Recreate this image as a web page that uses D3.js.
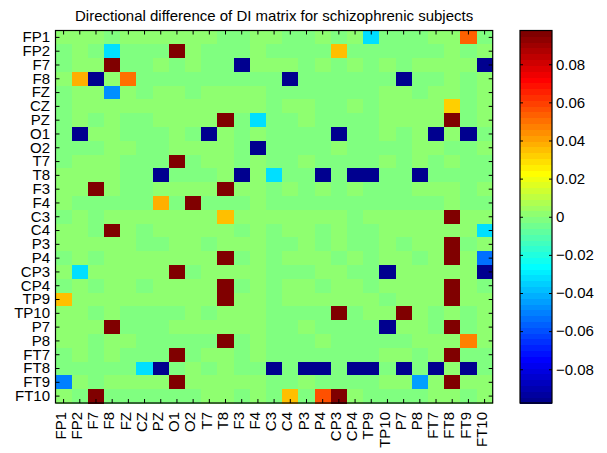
<!DOCTYPE html>
<html>
<head>
<meta charset="utf-8">
<script src="https://cdn.jsdelivr.net/npm/d3@7"></script>
<style>
  body { margin: 0; background: #fff; }
  svg { display: block; font-family: "Liberation Sans", Arial, Helvetica, sans-serif; }
</style>
</head>
<body>
<div id="chart"></div>
<script>
// channel labels, used for both rows and columns
const channels = ["FP1", "FP2", "F7", "F8", "FZ", "CZ", "PZ", "O1", "O2", "T7", "T8", "F3", "F4",
    "C3", "C4", "P3", "P4", "CP3", "CP4", "TP9", "TP10", "P7", "P8", "FT7", "FT8", "FT9", "FT10"];

// near-zero cells: a = just below 0, b = just above 0 (three blocks of 9 columns per row)
const nearZero = [
    "bbbabbbbb baabbaaba baaaabbba",
    "abaaaaaab aaabaaaaa aaaaaabab",
    "abbbaabab aaabbbaba bababbbbb",
    "bbbbbaaaa aaaaaaaaa aaaaaabab",
    "abbababba bbbbaaaaa aabbabbab",
    "abbbbbbbb bbbbabbaa babbbbbab",
    "ababaabbb bbaaaabaa aabbbbbab",
    "aabbaaaba bbabaaaaa aababbbaa",
    "aaabbaabb bbaaaaaab aaaabbaab",
    "abbbaaaba bbabaabaa aabababaa",
    "bbbbaaaaa abbbaaaaa aaaaaaaaa",
    "bbbbaabbb bbbbababa baaabbbab",
    "baaaaaaaa aaabaaaaa aaaaaabaa",
    "ababbbbbb bbbbbbbbb abbbbbbbb",
    "bbabbabbb bbababbab aabbbbbba",
    "bbbbbaabb abbbaabab aababbbab",
    "ababbbbbb bbababbba babbabbbb",
    "bbbbbbbba bbbbaaabb aaabbbbbb",
    "ababbabbb bbababbab babbbbbba",
    "bbbbbbbbb bbbbabbbb bbabbbbbb",
    "bbabaaaab abbbaaaaa abbbbabab",
    "bbbbaaabb bbbbaabaa aaabbabab",
    "bbabbaaaa aaabaaaba aaaabbbbb",
    "ababaaaaa bbabaaaaa aabbabbaa",
    "aaaaaaaab abaaaaaaa aaaaaabaa",
    "bbabbbbbb bbbbaabaa aabbbbbbb",
    "baaaaaaaa bbabababb baaaabbab"
];
const nearZeroSize = 0.0015;

// strong cells: [row, column, value]
const strong = [
    ["FP1", "TP9", -0.032], ["FP1", "FT9", 0.054],
    ["FP2", "F8", -0.032], ["FP2", "O1", 0.097], ["FP2", "CP3", 0.036],
    ["F7", "F8", 0.097], ["F7", "F3", -0.097], ["F7", "FT10", -0.097],
    ["F8", "FP2", 0.037], ["F8", "F7", -0.097], ["F8", "FZ", 0.049], ["F8", "C4", -0.097], ["F8", "P7", -0.097],
    ["FZ", "F8", -0.046],
    ["CZ", "FT8", 0.031],
    ["PZ", "T8", 0.097], ["PZ", "F4", -0.032], ["PZ", "FT8", 0.097],
    ["O1", "FP2", -0.097], ["O1", "T7", -0.097], ["O1", "CP3", -0.097], ["O1", "FT7", -0.097], ["O1", "FT9", -0.097],
    ["O2", "F4", -0.097],
    ["T7", "O1", 0.097],
    ["T8", "PZ", -0.097], ["T8", "F3", -0.097], ["T8", "C3", -0.032], ["T8", "P4", -0.097],
    ["T8", "CP4", -0.097], ["T8", "TP9", -0.097], ["T8", "P8", -0.097],
    ["F3", "F7", 0.097], ["F3", "T8", 0.097],
    ["F4", "PZ", 0.037], ["F4", "O2", 0.097],
    ["C3", "T8", 0.036], ["C3", "FT8", 0.097],
    ["C4", "F8", 0.097], ["C4", "FT10", -0.032],
    ["P3", "FT8", 0.097],
    ["P4", "T8", 0.097], ["P4", "FT8", 0.097], ["P4", "FT10", -0.054],
    ["CP3", "FP2", -0.032], ["CP3", "O1", 0.097], ["CP3", "TP10", -0.097], ["CP3", "FT10", -0.097],
    ["CP4", "T8", 0.097], ["CP4", "FT8", 0.097],
    ["TP9", "FP1", 0.036], ["TP9", "T8", 0.097], ["TP9", "FT8", 0.097],
    ["TP10", "CP3", 0.097], ["TP10", "P7", 0.097],
    ["P7", "F8", 0.097], ["P7", "TP10", -0.097], ["P7", "FT8", 0.097],
    ["P8", "T8", 0.097], ["P8", "FT9", 0.046],
    ["FT7", "O1", 0.097], ["FT7", "FT8", 0.097],
    ["FT8", "CZ", -0.032], ["FT8", "PZ", -0.097], ["FT8", "C3", -0.097], ["FT8", "P3", -0.097],
    ["FT8", "P4", -0.097], ["FT8", "CP4", -0.097], ["FT8", "TP9", -0.097], ["FT8", "P7", -0.097],
    ["FT8", "FT7", -0.097], ["FT8", "FT9", -0.097],
    ["FT9", "FP1", -0.049], ["FT9", "O1", 0.097], ["FT9", "P8", -0.043], ["FT9", "FT8", 0.097],
    ["FT10", "F7", 0.097], ["FT10", "C4", 0.036], ["FT10", "P4", 0.057], ["FT10", "CP3", 0.097]
];

const colorLimits = [-0.0977, 0.0977];
const barTicks = [-0.08, -0.06, -0.04, -0.02, 0, 0.02, 0.04, 0.06, 0.08];
const title = "Directional difference of DI matrix for schizophrenic subjects";

// MATLAB jet(64)
function jet(m) {
    const n = m / 4, out = [];
    for (let k = 1; k <= m; k++) {
        const r = k <= 24 ? 0 : k <= 40 ? (k - 24) / n : k <= 56 ? 1 : (n - (k - 56)) / n;
        const g = k <= 8 ? 0 : k <= 24 ? (k - 8) / n : k <= 40 ? 1 : k <= 55 ? (56 - k) / n : 0;
        const b = k <= 8 ? (k + 8) / n : k <= 24 ? 1 : k <= 39 ? (40 - k) / n : 0;
        out.push(d3.rgb(r * 255, g * 255, b * 255).formatHex());
    }
    return out;
}

const width = 607, height = 453;
const plot = {left: 55.5, right: 492.7, top: 30.5, bottom: 403};
const bar = {left: 520, right: 552};

const svg = d3.select("#chart").append("svg")
    .attr("width", width)
    .attr("height", height);

const x = d3.scaleBand().domain(channels).range([plot.left, plot.right]);
const y = d3.scaleBand().domain(channels).range([plot.top, plot.bottom]);
const color = d3.scaleQuantize().domain(colorLimits).range(jet(64));

// build the cell list
const cells = [];
channels.forEach((row, i) => {
    const codes = nearZero[i].replace(/ /g, "");
    channels.forEach((col, j) => {
        cells.push({row: row, col: col, value: codes[j] === "a" ? -nearZeroSize : nearZeroSize});
    });
});
strong.forEach(s => {
    const c = cells.find(d => d.row == s[0] && d.col == s[1]);
    if (c) c.value = s[2];
});

svg.append("g")
    .attr("shape-rendering", "crispEdges")
    .selectAll("rect")
    .data(cells)
    .join("rect")
    .attr("x", d => x(d.col))
    .attr("y", d => y(d.row))
    .attr("width", x.bandwidth() + 0.5)
    .attr("height", y.bandwidth() + 0.5)
    .attr("fill", d => color(d.value));

// axes with inward ticks
const fontSize = "15px";

const axisL = svg.append("g")
    .attr("transform", "translate(" + plot.left + ",0)")
    .call(d3.axisLeft(y).tickSizeInner(-4).tickSizeOuter(0).tickPadding(5.5));
const axisR = svg.append("g")
    .attr("transform", "translate(" + plot.right + ",0)")
    .call(d3.axisRight(y).tickSizeInner(-4).tickSizeOuter(0).tickFormat(""));
const axisT = svg.append("g")
    .attr("transform", "translate(0," + plot.top + ")")
    .call(d3.axisTop(x).tickSizeInner(-4).tickSizeOuter(0).tickFormat(""));
const axisB = svg.append("g")
    .attr("transform", "translate(0," + plot.bottom + ")")
    .call(d3.axisBottom(x).tickSizeInner(-4).tickSizeOuter(0).tickFormat(""));

[axisL, axisR, axisT, axisB].forEach(g => {
    g.select(".domain").remove();
    g.selectAll(".tick line").attr("stroke", "#000");
});
axisL.selectAll("text")
    .attr("font-size", fontSize)
    .attr("font-family", null)
    .attr("fill", "#000");

// rotated column labels
svg.append("g")
    .selectAll("text")
    .data(channels)
    .join("text")
    .attr("transform", d => "translate(" + (x(d) + x.bandwidth() / 2 + 2.2) + "," + (plot.bottom + 9) + ") rotate(-90)")
    .attr("text-anchor", "end")
    .attr("font-size", fontSize)
    .text(d => d);

svg.append("rect")
    .attr("x", plot.left)
    .attr("y", plot.top)
    .attr("width", plot.right - plot.left)
    .attr("height", plot.bottom - plot.top)
    .attr("fill", "none")
    .attr("stroke", "#000")
    .attr("stroke-width", 1.2);

svg.append("text")
    .attr("x", (plot.left + plot.right) / 2)
    .attr("y", 20.5)
    .attr("text-anchor", "middle")
    .attr("font-size", fontSize)
    .text(title);

// colorbar
const cb = d3.scaleLinear().domain(colorLimits).range([plot.bottom, plot.top]);
const levels = color.range().map(c => color.invertExtent(c));

svg.append("g")
    .attr("shape-rendering", "crispEdges")
    .selectAll("rect")
    .data(levels)
    .join("rect")
    .attr("x", bar.left)
    .attr("y", d => cb(d[1]))
    .attr("width", bar.right - bar.left)
    .attr("height", d => cb(d[0]) - cb(d[1]) + 0.5)
    .attr("fill", d => color((d[0] + d[1]) / 2));

const barAxis = svg.append("g")
    .attr("transform", "translate(" + bar.right + ",0)")
    .call(d3.axisRight(cb).tickValues(barTicks).tickSizeInner(-3).tickSizeOuter(0).tickPadding(4)
        .tickFormat(d => d === 0 ? "0" : (d < 0 ? "\u2212" : "") + Math.abs(d).toFixed(2)));
barAxis.select(".domain").remove();
barAxis.selectAll(".tick line").attr("stroke", "#000");
barAxis.selectAll("text")
    .attr("font-size", fontSize)
    .attr("font-family", null)
    .attr("fill", "#000");

const barAxisLeft = svg.append("g")
    .attr("transform", "translate(" + bar.left + ",0)")
    .call(d3.axisLeft(cb).tickValues(barTicks).tickSizeInner(-3).tickSizeOuter(0).tickFormat(""));
barAxisLeft.select(".domain").remove();
barAxisLeft.selectAll(".tick line").attr("stroke", "#000");

svg.append("rect")
    .attr("x", bar.left)
    .attr("y", plot.top)
    .attr("width", bar.right - bar.left)
    .attr("height", plot.bottom - plot.top)
    .attr("fill", "none")
    .attr("stroke", "#000")
    .attr("stroke-width", 1.2);
</script>
</body>
</html>
